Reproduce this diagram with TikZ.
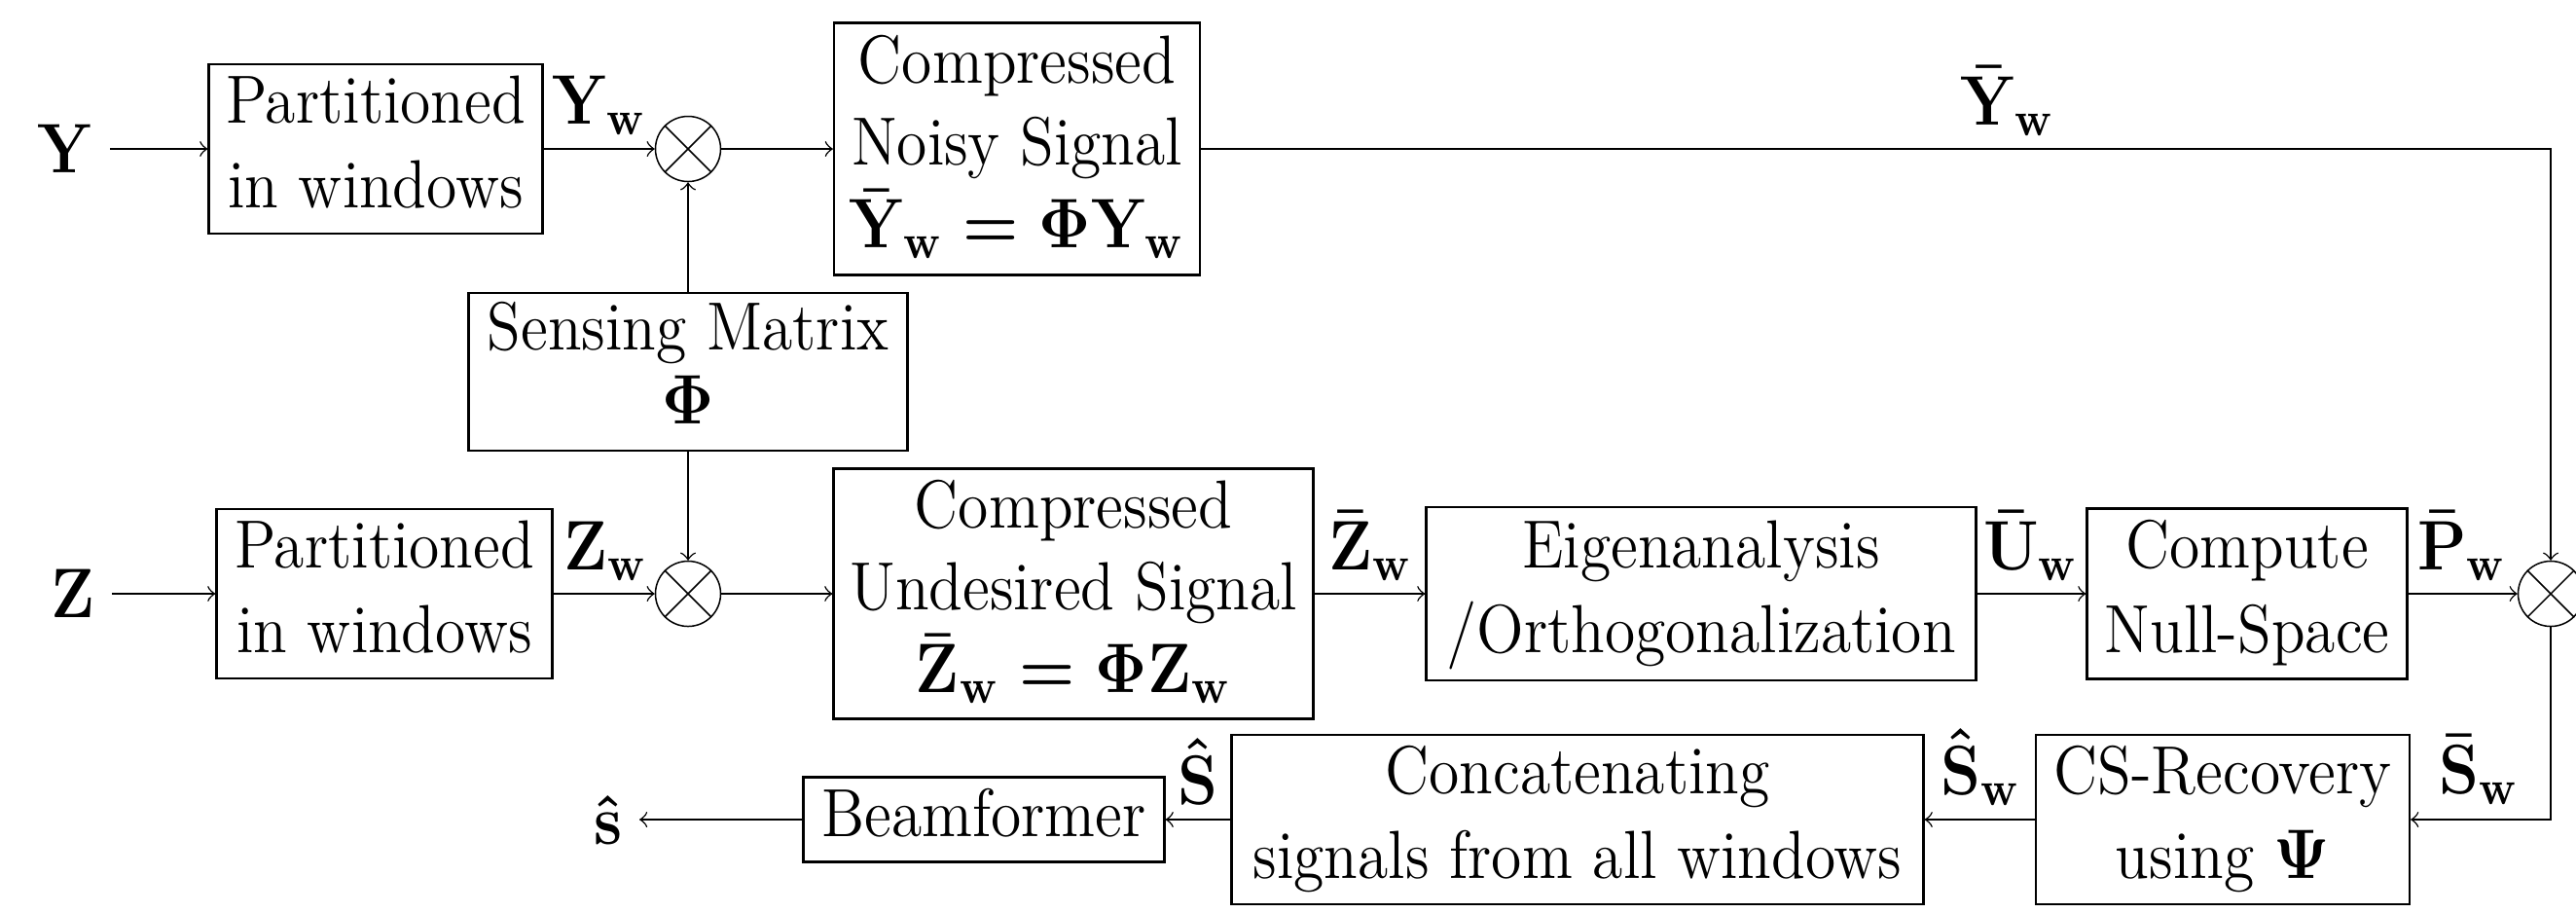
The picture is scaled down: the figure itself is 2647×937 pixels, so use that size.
\documentclass[tikz,border=0pt]{standalone}
\usepackage{graphicx}
\newcommand{\tb}[1]{\scalebox{0.91}[1]{\begin{tabular}{@{}c@{}}#1\end{tabular}}}
\newcommand{\lb}[1]{\scalebox{0.91}[1]{\boldmath$#1$}}
\begin{document}
\begin{tikzpicture}[x=0.2pt,y=-0.2pt,
 every node/.style={font=\fontsize{14}{17.4}\selectfont},
 blk/.style 2 args={draw, line width=0.45pt, inner sep=0pt, minimum width=#1*0.2pt, minimum height=#2*0.2pt},
 mult/.style={draw, circle, line width=0.3pt, minimum size=67*0.2pt, inner sep=0pt},
 lbl/.style={anchor=south, inner sep=0pt},
 term/.style={inner sep=3.3pt},
 conn/.style={->, line width=0.3pt},
 xline/.style={line width=0.3pt}]
\useasboundingbox (0,0) rectangle (2647,937);

% top row
\node[term] (Y) at (67,153) {\lb{\mathbf{Y}}};
\node[blk={343}{159}] (b1) at (386,153) {\tb{Partitioned\\in windows}};
\node[mult] (c1) at (707,153) {};
\node[blk={376}{259}] (b2) at (1045,153) {\renewcommand{\arraystretch}{0.97}\tb{Compressed\\Noisy Signal\\{\boldmath$\bar{\mathbf{Y}}_{\mathbf{w}}=\Phi\mathbf{Y}_{\mathbf{w}}$}}};
\node[blk={451}{162}] (sens) at (707,382) {\renewcommand{\arraystretch}{0.88}\tb{Sensing Matrix\\{\boldmath$\Phi$}}};

% middle row
\node[term] (Z) at (75,610) {\lb{\mathbf{Z}}};
\node[blk={345}{161}] (b3) at (395,610) {\tb{Partitioned\\in windows}};
\node[mult] (c2) at (707,610) {};
\node[blk={493}{257}] (b4) at (1103,610) {\renewcommand{\arraystretch}{0.97}\tb{Compressed\\Undesired Signal\\{\boldmath$\bar{\mathbf{Z}}_{\mathbf{w}}=\Phi\mathbf{Z}_{\mathbf{w}}$}}};
\node[blk={565}{178}] (b5) at (1748,610) {\tb{Eigenanalysis\\/Orthogonalization}};
\node[blk={329}{175}] (b6) at (2309,610) {\tb{Compute\\Null-Space}};
\node[mult] (c3) at (2621,610) {};

% bottom row
\node[blk={384}{174}] (cs) at (2284,842) {\tb{CS-Recovery\\using {\boldmath$\Psi$}}};
\node[blk={711}{174}] (cc) at (1621,842) {\tb{Concatenating\\signals from all windows}};
\node[blk={371}{80}] (bf) at (1011,842) {\tb{Beamformer}};
\node[term] (shat) at (625,842) {\lb{\hat{\mathbf{s}}}};

% crosses in multipliers
\foreach \c in {c1,c2,c3}{
  \draw[xline] (\c.north west) -- (\c.south east) (\c.north east) -- (\c.south west);
}

% connectors
\draw[conn] (Y) -- (b1);
\draw[conn] (b1) -- (c1);
\draw[conn] (c1) -- (b2);
\draw[conn] (sens) -- (c1);
\draw[conn] (b2.east) -| (c3.north);
\draw[conn] (Z) -- (b3);
\draw[conn] (b3) -- (c2);
\draw[conn] (c2) -- (b4);
\draw[conn] (sens) -- (c2);
\draw[conn] (b4) -- (b5);
\draw[conn] (b5) -- (b6);
\draw[conn] (b6) -- (c3);
\draw[conn] (c3.south) |- (cs.east);
\draw[conn] (cs) -- (cc);
\draw[conn] (cc) -- (bf);
\draw[conn] (bf) -- (shat);

% labels
\node[lbl] (lYw) at (616,139) {\lb{\mathbf{Y}_{\mathbf{w}}}};
\node[lbl] (lYbw) at (2063,140) {\lb{\bar{\mathbf{Y}}_{\mathbf{w}}}};
\node[lbl] (lZw) at (622,597) {\lb{\mathbf{Z}_{\mathbf{w}}}};
\node[lbl] (lZbw) at (1408,597) {\lb{\bar{\mathbf{Z}}_{\mathbf{w}}}};
\node[lbl] (lUbw) at (2087,597) {\lb{\bar{\mathbf{U}}_{\mathbf{w}}}};
\node[lbl] (lPbw) at (2530,597) {\lb{\bar{\mathbf{P}}_{\mathbf{w}}}};
\node[lbl] (lSbw) at (2547,827) {\lb{\bar{\mathbf{S}}_{\mathbf{w}}}};
\node[lbl] (lShw) at (2035,828) {\lb{\hat{\mathbf{S}}_{\mathbf{w}}}};
\node[lbl] (lSh) at (1231,827) {\lb{\hat{\mathbf{S}}}};
\end{tikzpicture}
\end{document}
